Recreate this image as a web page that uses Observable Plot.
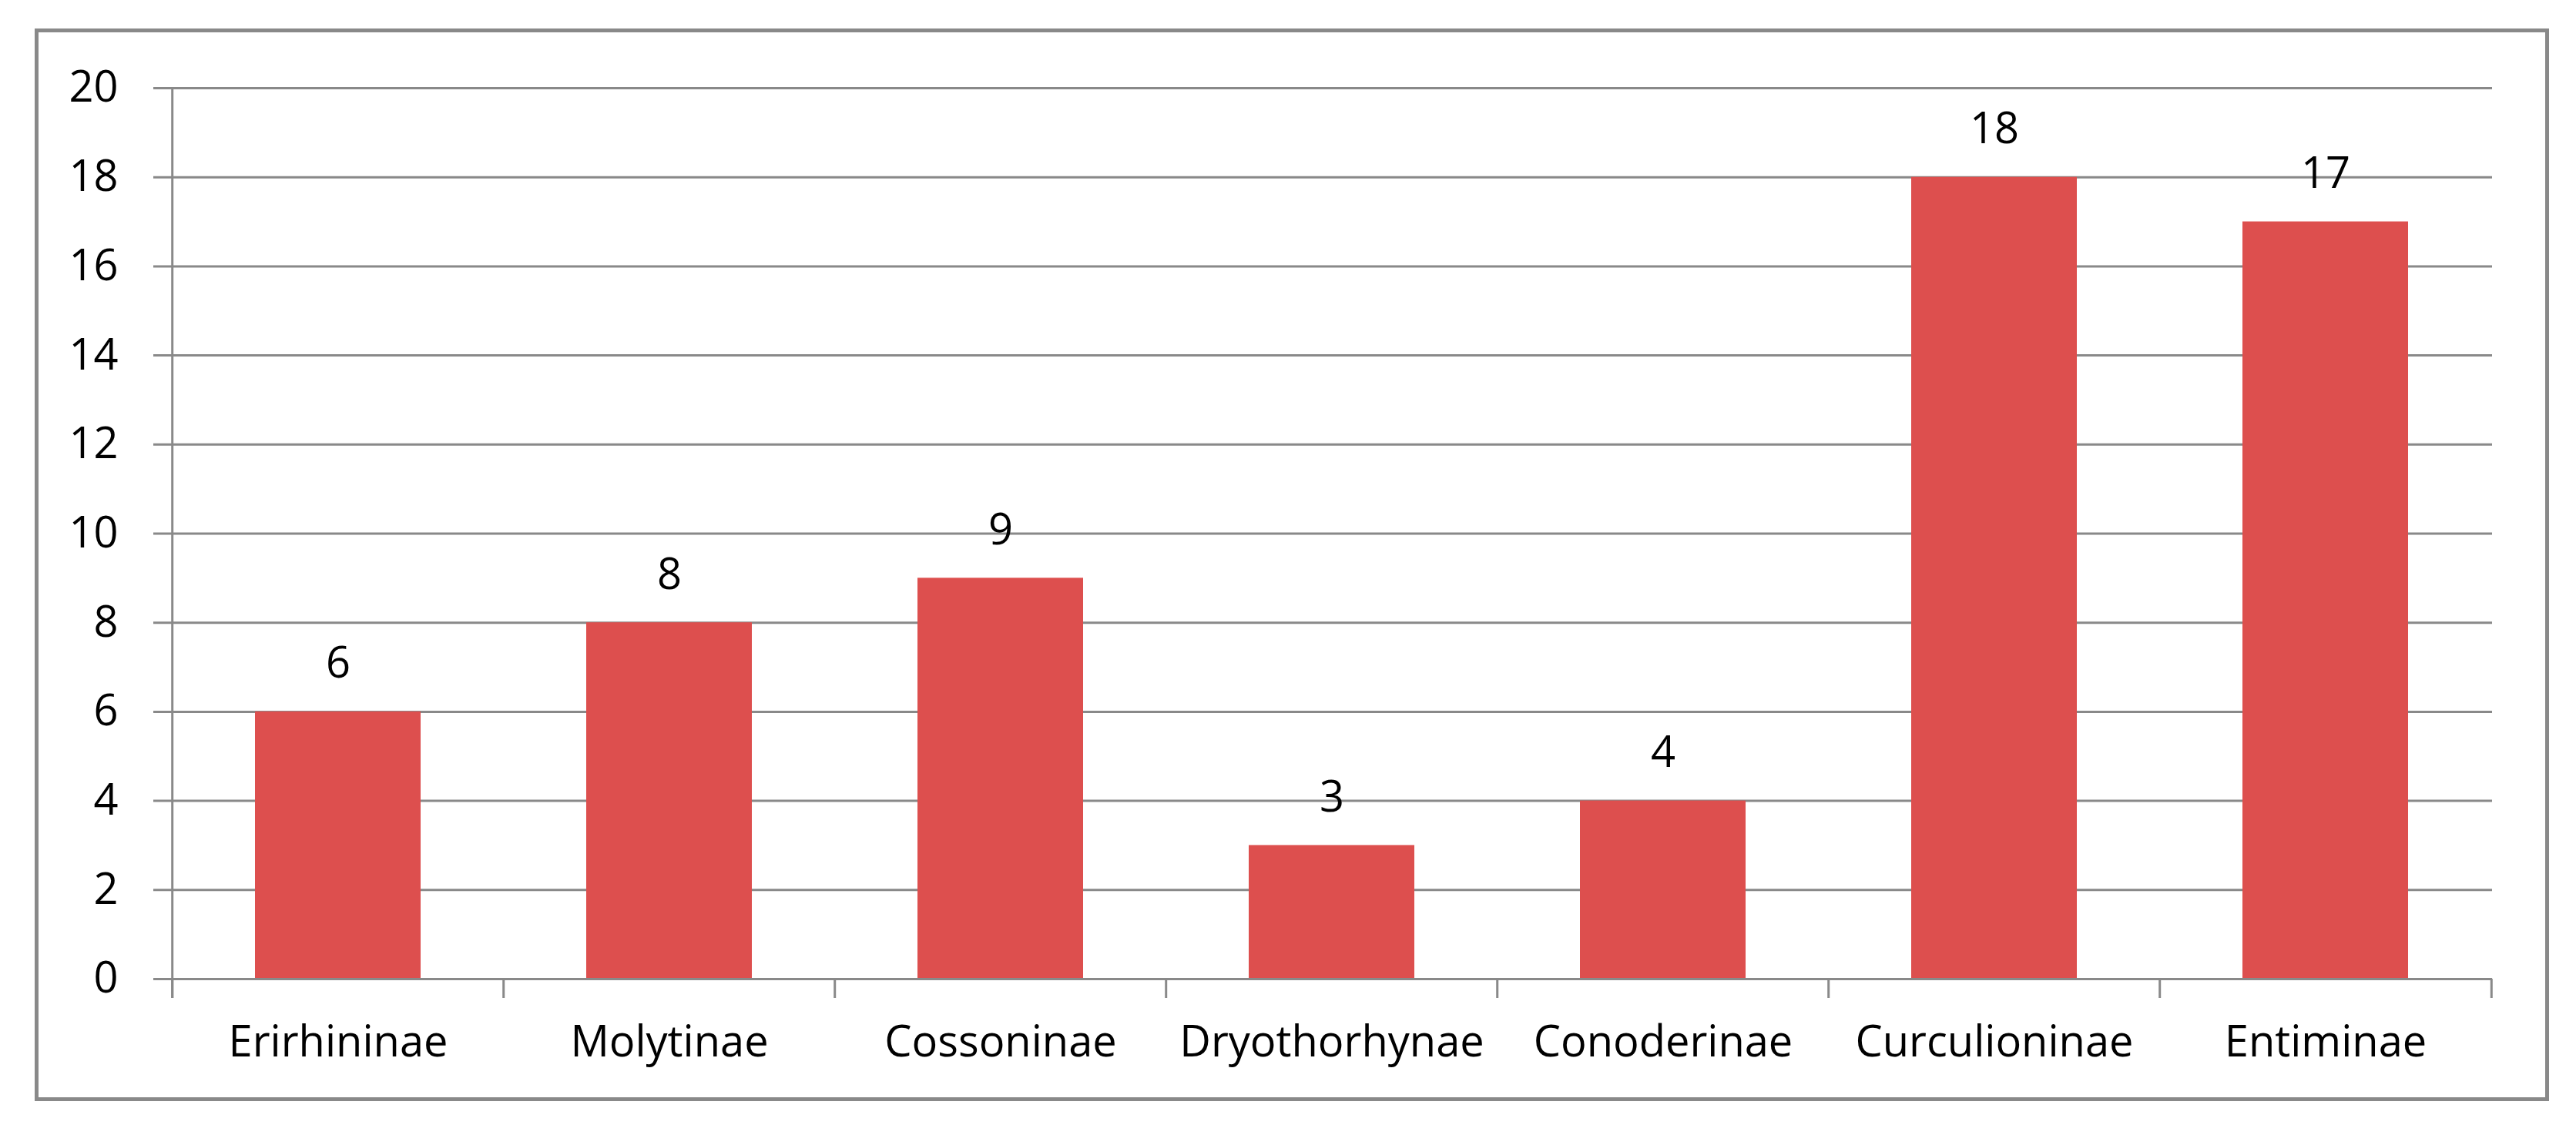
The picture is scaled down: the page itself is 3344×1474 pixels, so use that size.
<!DOCTYPE html>
<html>
<head>
<meta charset="utf-8">
<script src="https://cdn.jsdelivr.net/npm/d3@7"></script>
<script src="https://cdn.jsdelivr.net/npm/@observablehq/plot@0.6"></script>
<style>
  html, body { margin: 0; padding: 0; background: #fff; }
  #chart { position: relative; width: 3344px; height: 1474px; }
  #chart svg { position: absolute; left: 0; top: 0; }
  #frame { position: absolute; left: 45px; top: 37px; width: 3254px; height: 1383px;
           border: 5px solid #898989; z-index: 1; pointer-events: none; }
</style>
</head>
<body>
<div id="chart"></div>
<script>
// ---- data ----
const subfamilies = ["Erirhininae", "Molytinae", "Cossoninae", "Dryothorhynae", "Conoderinae", "Curculioninae", "Entiminae"];
const counts = [6, 8, 9, 3, 4, 18, 17];
const yTicks = [0, 2, 4, 6, 8, 10, 12, 14, 16, 18, 20];

const data = subfamilies.map((name, i) => ({ name, count: counts[i] }));

// ---- layout ----
const W = 3344, H = 1474;
const mL = 221, mR = 109, mT = 114, mB = 203;
const step = (W - mL - mR) / subfamilies.length;
const gray = "#898989";
const barColor = "#dd4f4e";

const chart = Plot.plot({
  width: W,
  height: H,
  marginLeft: mL,
  marginRight: mR,
  marginTop: mT,
  marginBottom: mB,
  style: { fontFamily: "'Open Sans', sans-serif", fontSize: "56px", color: "#000", background: "transparent" },
  x: { domain: subfamilies, paddingInner: 0.5, paddingOuter: 0.25, label: null },
  y: { domain: [0, 20], label: null },
  marks: [
    // horizontal gridlines (extending left as tick marks)
    Plot.ruleY(yTicks, { stroke: gray, strokeWidth: 3, insetLeft: -22 }),
    // bars
    Plot.barY(data, { x: "name", y: "count", fill: barColor }),
    // baseline
    Plot.ruleY([0], { stroke: gray, strokeWidth: 3, insetLeft: -22 }),
    // vertical axis line (left edge of first band) down to tick end
    Plot.ruleX([subfamilies[0]], { x: d => d, y1: 20, y2: 0, dx: -step / 2, stroke: gray, strokeWidth: 3, insetBottom: -25 }),
    // category boundary ticks
    Plot.ruleX(subfamilies, { x: d => d, y1: 0, y2: 0, dx: -step / 2, stroke: gray, strokeWidth: 3, insetBottom: -25 }),
    Plot.ruleX([subfamilies[subfamilies.length - 1]], { x: d => d, y1: 0, y2: 0, dx: step / 2, stroke: gray, strokeWidth: 3, insetBottom: -25 }),
    // axes
    Plot.axisY(yTicks, { tickSize: 0, tickPadding: 68, label: null, tickFormat: d => String(d) }),
    Plot.axisX({ tickSize: 0, tickPadding: 61, label: null }),
    // value labels
    Plot.text(data, { x: "name", y: "count", text: d => String(d.count), dy: -62, fill: "#000" })
  ]
});

const container = document.getElementById("chart");
container.appendChild(chart);
const frame = document.createElement("div");
frame.id = "frame";
container.appendChild(frame);
</script>
</body>
</html>
